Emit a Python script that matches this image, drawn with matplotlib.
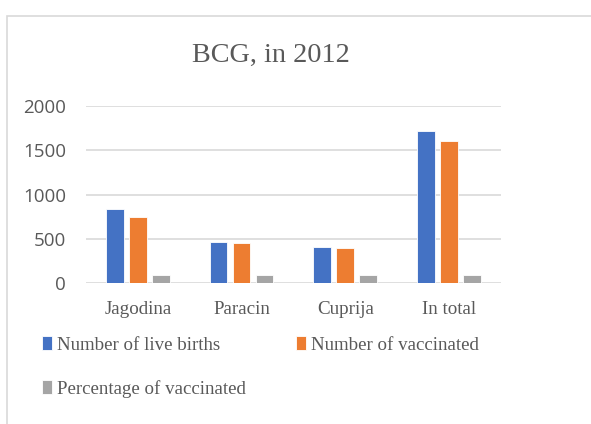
import matplotlib.pyplot as plt
import numpy as np
from matplotlib.patches import Rectangle

categories = ["Jagodina", "Paracin", "Cuprija", "In total"]
live_births = [835, 466, 413, 1721]
vaccinated = [748, 455, 395, 1601]
percent_vaccinated = [96, 98, 97, 97]
y_ticks = [0, 500, 1000, 1500, 2000]

text_gray = "#595959"
serif = ["Liberation Serif", "DejaVu Serif"]

fig = plt.figure(figsize=(5.91, 4.24), dpi=100)

# chart frame
fig.patches.append(Rectangle((7 / 591, -0.1), 1.2, 1 - 16 / 424 + 0.1,
                             transform=fig.transFigure, fill=False,
                             edgecolor="#D9D9D9", linewidth=1.2))

ax = fig.add_axes([86 / 591, 1 - 283.3 / 424, (500.7 - 86) / 591, (283.3 - 106) / 424])

x = np.arange(len(categories))
w = 0.17
off = 0.222
b1 = ax.bar(x - off, live_births, w, color="#4472C4", edgecolor="white", linewidth=0.6, zorder=3)
b3 = ax.bar(x + off, percent_vaccinated, w, color="#A5A5A5", edgecolor="white", linewidth=0.6, zorder=3)
b2 = ax.bar(x, vaccinated, w, color="#ED7D31", edgecolor="white", linewidth=0.6, zorder=3)

ax.set_xlim(-0.5, len(categories) - 0.5)
ax.set_ylim(0, 2000)
ax.set_yticks(y_ticks)
ax.yaxis.grid(True, color="#D9D9D9", linewidth=1.2, zorder=0)
ax.set_axisbelow(True)
for s in ax.spines.values():
    s.set_visible(False)
ax.tick_params(length=0)
ax.set_yticklabels([str(t) for t in y_ticks], fontsize=13.5, color=text_gray,
                   fontfamily="Open Sans")
ax.tick_params(axis="y", pad=14.5)
ax.set_xticks(x)
ax.set_xticklabels(categories, fontsize=13.7, color=text_gray, fontfamily=serif)
ax.tick_params(axis="x", pad=13)

fig.text(271 / 591, 1 - 55 / 424, "BCG, in 2012", ha="center", va="center",
         fontsize=20.3, color=text_gray, fontfamily=serif)

leg = fig.legend([b1, b3, b2],
                 ["Number of live births", "Percentage of vaccinated", "Number of vaccinated"],
                 ncol=2, loc="upper left", bbox_to_anchor=(42 / 591, 1 - 336 / 424),
                 frameon=False, prop={"family": serif, "size": 13.6},
                 handlelength=0.55, handleheight=0.75, handletextpad=0.25,
                 columnspacing=2.65, labelspacing=1.4, borderpad=0, borderaxespad=0)
for t in leg.get_texts():
    t.set_color(text_gray)

plt.savefig("out.png", dpi=100)
